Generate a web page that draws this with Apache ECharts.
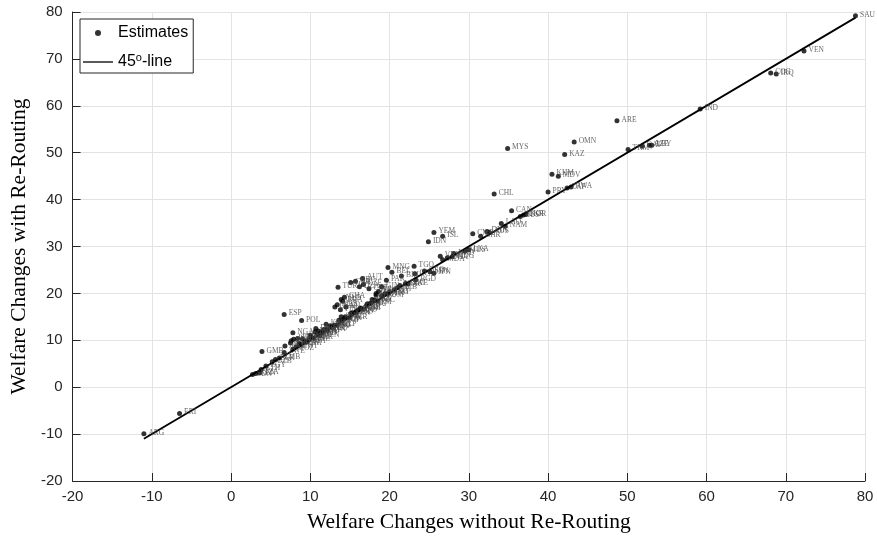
<!DOCTYPE html>
<html>
<head>
<meta charset="utf-8">
<script src="https://cdn.jsdelivr.net/npm/echarts@6/dist/echarts.min.js"></script>
<style>
  html, body { margin: 0; padding: 0; background: #fff; }
  #chart { width: 877px; height: 540px; }
</style>
</head>
<body>
<div id="chart"></div>
<script>
// country codes, welfare change without re-routing (x), with re-routing (y)
var countries = [
  'SAU','VEN','COG','IRQ','IND','ARE','OMN','MYS','KAZ','TKM','QAT','AZE','LBY',
  'KHM','MDV','PRY','ZAF','BWA','CHL','CAN','RUS','UKR','KOR','LAO','NAM',
  'YEM','ISL','IDN','CMR','DNK','AUS','BHR','VNM','MDG','MDA','MUS','LKA','UGA','HND',
  'MNG','BEL','TGO','PAK','BIH','CIV','GEO','SEN','JPN','BGD','NOR','ECU','SWE',
  'AUT','GRC','GBR','DZA','CZE','CHE','GIN','FRA','ITA','TUR','GHA',
  'NLD','BRA','MEX','USA','FIN','IRL','PRT','HUN','ROU','BGR','HRV','SVN','SVK',
  'POL','ESP','DEU','LTU','LVA','EST','CYP','NGA','GMB','MLT','LUX','ISR','JOR',
  'LBN','TUN','MAR','ETH','EGY','SDN','KEN','TZA','ZMB','ZWE','MOZ','MWI','RWA',
  'BDI','BFA','MLI','NER','TCD','BEN','GAB','AGO','NPL','PHL','THA','SGP','NZL',
  'PER','COL','BOL','URY','CRI','PAN','GTM','SLV','NIC','DOM','JAM','TTO','HTI',
  'ALB','MKD','SRB','ARM','KGZ','TJK','UZB','BLR','MNE','FJI','PNG','BRN','HKG',
  'ARG','ERI'
];
var withoutRerouting = [
  78.8, 72.3, 68.1, 68.8, 59.2, 48.7, 43.3, 34.9, 42.1, 50.1, 51.9, 52.8, 53.1,
  40.5, 41.3, 40.0, 42.4, 42.9, 33.2, 35.4, 36.5, 36.9, 37.2, 34.1, 34.6,
  25.6, 26.7, 24.9, 30.5, 32.3, 32.6, 31.5, 26.4, 27.9, 26.7, 29.5, 30.0, 27.3, 28.1,
  19.8, 20.3, 23.1, 19.6, 21.5, 23.2, 24.4, 25.1, 25.6, 23.3, 21.3, 22.0, 22.3,
  16.6, 15.7, 15.1, 16.2, 16.7, 17.4, 19.0, 18.6, 18.3, 13.5, 14.3,
  13.9, 14.1, 13.4, 13.1, 13.8, 14.5, 17.8, 18.3, 17.1, 16.4, 15.7, 15.1, 13.9,
  8.9, 6.7, 10.7, 11.4, 12.2, 12.8, 13.4, 7.8, 3.9, 6.8, 7.6, 7.9, 7.5,
  8.4, 8.6, 10.6, 3.8, 4.4, 2.7, 3.1, 3.6, 6.1, 6.7, 7.8, 8.2, 8.8,
  9.3, 9.6, 10.1, 10.4, 10.9, 11.2, 11.7, 12.1, 12.5, 13.0, 13.6, 14.0, 14.4,
  14.9, 15.3, 15.8, 16.3, 16.7, 17.2, 17.6, 18.1, 18.5, 19.0, 19.4, 20.0, 20.6,
  21.0, 9.0, 10.0, 11.0, 12.0, 14.3, 5.2, 5.6, 9.8, 11.5, 12.7, 16.0, 19.8,
  -11.0, -6.5
];
var withRerouting = [
  79.2, 71.7, 67.0, 66.8, 59.3, 56.8, 52.3, 50.9, 49.6, 50.7, 51.4, 51.6, 51.6,
  45.4, 45.0, 41.6, 42.5, 42.7, 41.2, 37.6, 36.4, 36.7, 36.8, 34.9, 34.3,
  33.0, 32.2, 31.0, 32.7, 33.2, 33.0, 32.2, 27.9, 27.8, 27.2, 29.0, 29.3, 27.6, 28.5,
  25.5, 24.5, 25.8, 22.8, 23.7, 24.2, 24.8, 24.6, 24.3, 22.9, 21.7, 22.1, 22.0,
  23.2, 22.6, 22.3, 21.4, 21.9, 21.0, 21.4, 20.4, 20.0, 21.3, 19.2,
  18.7, 18.3, 17.6, 17.1, 16.5, 17.1, 18.7, 19.6, 17.5, 16.8, 16.0, 15.7, 15.0,
  14.2, 15.5, 12.5, 11.8, 12.1, 12.8, 13.2, 11.6, 7.6, 8.8, 9.9, 10.2, 9.4,
  10.4, 9.3, 11.8, 3.8, 4.5, 2.7, 2.9, 3.1, 6.2, 7.4, 8.1, 8.6, 9.1,
  9.8, 9.7, 10.6, 10.5, 11.3, 11.0, 12.3, 12.4, 13.1, 13.2, 14.3, 14.1, 15.0,
  14.8, 15.9, 16.2, 16.9, 16.6, 17.8, 17.9, 18.6, 18.4, 19.5, 19.9, 20.3, 20.8,
  21.2, 10.3, 11.1, 12.0, 13.4, 14.6, 5.4, 5.9, 10.1, 11.6, 13.0, 16.4, 20.0,
  -9.9, -5.6
];
var xTicks = { min: -20, max: 80, step: 10 };
var yTicks = { min: -20, max: 80, step: 10 };

var points = countries.map(function (c, i) {
  return { name: c, value: [withoutRerouting[i], withRerouting[i]] };
});
var lo = Math.min.apply(null, withoutRerouting);
var hi = Math.max.apply(null, withoutRerouting);

var axisColor = '#262626';

var chart = echarts.init(document.getElementById('chart'));
chart.setOption({
  animation: false,
  backgroundColor: '#fff',
  grid: { left: 71, right: 12, top: 12, bottom: 59 },
  legend: {
    left: 80, top: 19,
    orient: 'vertical',
    backgroundColor: '#fff',
    borderColor: '#262626', borderWidth: 1,
    padding: [5, 5, 2, 3],
    itemGap: 10,
    itemWidth: 30, itemHeight: 6,
    data: [
      { name: 'Estimates', icon: 'circle' },
      { name: '45-line', icon: 'path://M0,0L30,0L30,1.3L0,1.3Z', itemStyle: { color: '#000' } }
    ],
    formatter: function (name) {
      return name === '45-line' ? '45{sup|o}-line' : name;
    },
    textStyle: {
      fontFamily: 'Liberation Sans', fontSize: 16, color: '#000', lineHeight: 18,
      rich: { sup: { fontSize: 11, fontFamily: 'Liberation Sans', color: '#000', padding: [0, 0, 9, 0] } }
    }
  },
  xAxis: {
    type: 'value', min: xTicks.min, max: xTicks.max, interval: xTicks.step,
    name: 'Welfare Changes without Re-Routing',
    nameLocation: 'middle', nameGap: 30,
    nameTextStyle: { fontFamily: 'Liberation Serif', fontSize: 21.5, color: '#000' },
    axisLine: { show: true, onZero: false, lineStyle: { color: axisColor, width: 1 } },
    axisTick: { show: true, inside: true, length: 8, lineStyle: { color: axisColor } },
    axisLabel: { fontFamily: 'Liberation Sans', fontSize: 15, color: axisColor, margin: 8 },
    splitLine: { show: true, lineStyle: { color: '#e3e3e3', width: 1 } }
  },
  yAxis: {
    type: 'value', min: yTicks.min, max: yTicks.max, interval: yTicks.step,
    name: 'Welfare Changes with Re-Routing',
    nameLocation: 'middle', nameGap: 40,
    nameTextStyle: { fontFamily: 'Liberation Serif', fontSize: 21.5, color: '#000' },
    axisLine: { show: true, onZero: false, lineStyle: { color: axisColor, width: 1 } },
    axisTick: { show: true, inside: true, length: 8, lineStyle: { color: axisColor } },
    axisLabel: { fontFamily: 'Liberation Sans', fontSize: 15, color: axisColor, margin: 10 },
    splitLine: { show: true, lineStyle: { color: '#e3e3e3', width: 1 } }
  },
  series: [
    {
      name: 'Estimates',
      type: 'scatter',
      symbol: 'circle',
      symbolSize: 5,
      itemStyle: { color: '#000' },
      data: points,
      z: 3,
      label: {
        show: true, position: 'right', distance: 2, offset: [0, -1],
        formatter: '{b}',
        fontFamily: 'Liberation Serif', fontSize: 7.5, color: '#444'
      }
    },
    {
      name: '45-line',
      type: 'line',
      symbol: 'none',
      data: [[lo, lo], [hi, hi]],
      itemStyle: { color: '#000' },
      lineStyle: { color: '#000', width: 1.8 },
      z: 2
    }
  ]
});
</script>
</body>
</html>
